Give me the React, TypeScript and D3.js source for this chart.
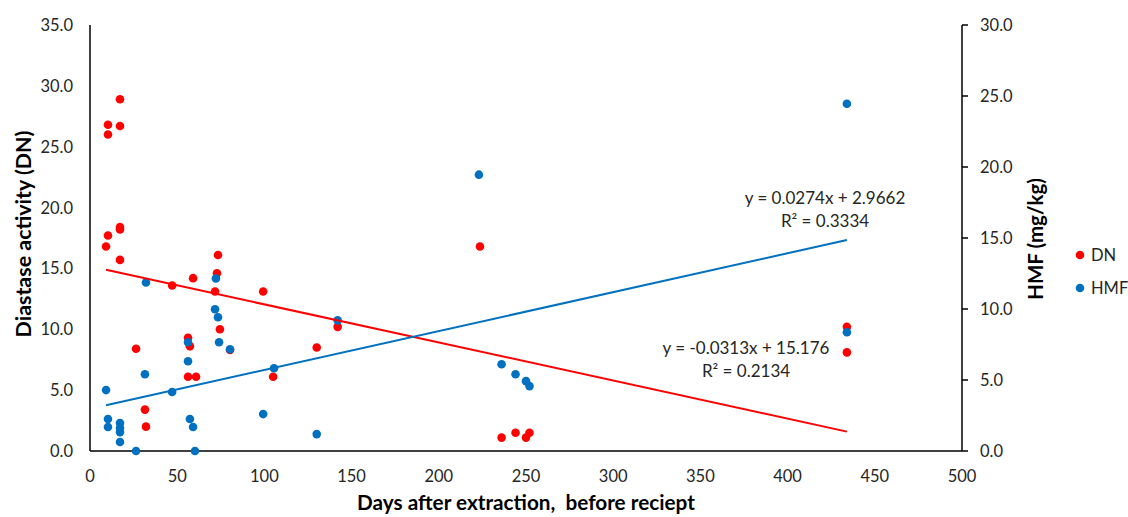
import React, { useLayoutEffect, useRef, useState } from "react";
import * as d3 from "d3";

const dnDays = [10.3, 10.3, 17.2, 17.2, 17.2, 17.2, 10.3, 9.2, 17.2, 73.4, 72.8, 59.1, 47.1, 71.7, 99.3, 74.5, 80.3, 26.4, 56.2, 57.3, 56.2, 60.8, 105, 130, 142, 31.5, 32.1, 223.6, 236, 244, 250, 252, 434, 434];
const dnValues = [26.8, 26.0, 28.9, 26.7, 18.4, 18.2, 17.7, 16.8, 15.7, 16.1, 14.6, 14.2, 13.6, 13.1, 13.1, 10.0, 8.3, 8.4, 9.3, 8.6, 6.1, 6.1, 6.1, 8.5, 10.2, 3.4, 2.0, 16.8, 1.1, 1.5, 1.1, 1.5, 10.2, 8.1];

const hmfDays = [32.1, 72.2, 71.7, 73.4, 74, 80.3, 56.2, 56.2, 31.5, 47.1, 9.2, 10.3, 10.3, 17.2, 17.2, 17.2, 17.2, 26.4, 57.3, 59.1, 60.2, 99.3, 105.5, 223, 142, 130, 236, 244, 250, 252, 434, 434];
const hmfValues = [11.87, 12.15, 9.98, 9.42, 7.66, 7.17, 7.66, 6.32, 5.41, 4.15, 4.29, 2.25, 1.69, 1.97, 1.62, 1.33, 0.63, 0.0, 2.25, 1.69, 0.0, 2.6, 5.83, 19.46, 9.2, 1.19, 6.11, 5.41, 4.92, 4.57, 24.45, 8.36];

const dnTrend = { slope: -0.0313, intercept: 15.176 };
const hmfTrend = { slope: 0.0274, intercept: 2.9662 };
const dnEquation = ["y = -0.0313x + 15.176", "R² = 0.2134"];
const hmfEquation = ["y = 0.0274x + 2.9662", "R² = 0.3334"];

const xTicks = [0, 50, 100, 150, 200, 250, 300, 350, 400, 450, 500];
const leftTicks = [0, 5, 10, 15, 20, 25, 30, 35];
const rightTicks = [0, 5, 10, 15, 20, 25, 30];
const legendItems = ["DN", "HMF"];
const xTitle = "Days after extraction,  before reciept";
const yLeftTitle = "Diastase activity (DN)";
const yRightTitle = "HMF (mg/kg)";

const RED = "#FF0000";
const BLUE = "#0070C0";
const FONT = "Lato, 'Open Sans', sans-serif";
const TXT = "#262626";

const titleTargets = [338, 207, 122];

export default function App() {
  const W = 1128, H = 517;
  const left = 90, right = 962, top = 25, bottom = 451;
  const x = d3.scaleLinear().domain([0, 500]).range([left, right]);
  const yL = d3.scaleLinear().domain([0, 35]).range([bottom, top]);
  const yR = d3.scaleLinear().domain([0, 30]).range([bottom, top]);
  const fmt = d3.format(".1f");
  const r = 4.3;

  const refs = [useRef<SVGTextElement>(null), useRef<SVGTextElement>(null), useRef<SVGTextElement>(null)];
  const [sizes, setSizes] = useState([18, 18, 18]);
  useLayoutEffect(() => {
    const ns = refs.map((rf, i) => {
      const el = rf.current;
      if (!el) return 18;
      const len = el.getComputedTextLength();
      return len > 0 ? 18 * titleTargets[i] / len : 18;
    });
    setSizes(ns);
  }, []);

  const dnX = d3.extent(dnDays) as [number, number];
  const hmfX = d3.extent(hmfDays) as [number, number];
  const line = d3.line<[number, number]>().x(d => d[0]).y(d => d[1]);
  const dnLine = line(dnX.map(v => [x(v), yL(dnTrend.slope * v + dnTrend.intercept)] as [number, number]));
  const hmfLine = line(hmfX.map(v => [x(v), yR(hmfTrend.slope * v + hmfTrend.intercept)] as [number, number]));

  return (
    <svg width={W} height={H} style={{ position: "absolute", left: 0, top: 0, background: "#fff" }} fontFamily={FONT}>
      <rect x={0} y={0} width={W} height={H} fill="#fff" />
      <line x1={left} x2={left} y1={top} y2={bottom} stroke="#000" strokeWidth={1.5} />
      <line x1={right} x2={right} y1={top} y2={bottom} stroke="#000" strokeWidth={1.5} />
      <line x1={left} x2={right} y1={bottom} y2={bottom} stroke="#000" strokeWidth={1.5} />
      {rightTicks.map(t => (
        <line key={"rt" + t} x1={right} x2={right + 6} y1={yR(t)} y2={yR(t)} stroke="#000" strokeWidth={1.5} />
      ))}
      {xTicks.map(t => (
        <text key={"xt" + t} x={x(t)} y={476} textAnchor="middle" dominantBaseline="central" fontSize={16.5} fill={TXT}>{t}</text>
      ))}
      {leftTicks.map(t => (
        <text key={"lt" + t} x={73} y={yL(t)} textAnchor="end" dominantBaseline="central" fontSize={16.5} fill={TXT}>{fmt(t)}</text>
      ))}
      {rightTicks.map(t => (
        <text key={"rtl" + t} x={980} y={yR(t)} textAnchor="start" dominantBaseline="central" fontSize={16.5} fill={TXT}>{fmt(t)}</text>
      ))}
      <text ref={refs[0]} x={526} y={502} textAnchor="middle" dominantBaseline="central" fontSize={sizes[0]} fontWeight="bold" fill="#000" style={{ whiteSpace: "pre" }}>{xTitle}</text>
      <text ref={refs[1]} transform={`translate(23,234) rotate(-90)`} textAnchor="middle" dominantBaseline="central" fontSize={sizes[1]} fontWeight="bold" fill="#000">{yLeftTitle}</text>
      <text ref={refs[2]} transform={`translate(1035,239) rotate(-90)`} textAnchor="middle" dominantBaseline="central" fontSize={sizes[2]} fontWeight="bold" fill="#000">{yRightTitle}</text>
      {dnDays.map((d, i) => (
        <circle key={"dn" + i} cx={x(d)} cy={yL(dnValues[i])} r={r} fill={RED} />
      ))}
      {hmfDays.map((d, i) => (
        <circle key={"hmf" + i} cx={x(d)} cy={yR(hmfValues[i])} r={r} fill={BLUE} />
      ))}
      <path d={dnLine || ""} stroke={RED} strokeWidth={2} fill="none" />
      <path d={hmfLine || ""} stroke={BLUE} strokeWidth={2} fill="none" />
      {hmfEquation.map((s, i) => (
        <text key={"he" + i} x={825} y={197 + i * 23} textAnchor="middle" dominantBaseline="central" fontSize={17} fill={TXT}>{s}</text>
      ))}
      {dnEquation.map((s, i) => (
        <text key={"de" + i} x={746} y={347 + i * 23} textAnchor="middle" dominantBaseline="central" fontSize={17} fill={TXT}>{s}</text>
      ))}
      {legendItems.map((s, i) => (
        <g key={"lg" + i}>
          <circle cx={1080} cy={255 + i * 33} r={r} fill={i === 0 ? RED : BLUE} />
          <text x={1091} y={255 + i * 33} dominantBaseline="central" fontSize={16.5} fill={TXT}>{s}</text>
        </g>
      ))}
    </svg>
  );
}
